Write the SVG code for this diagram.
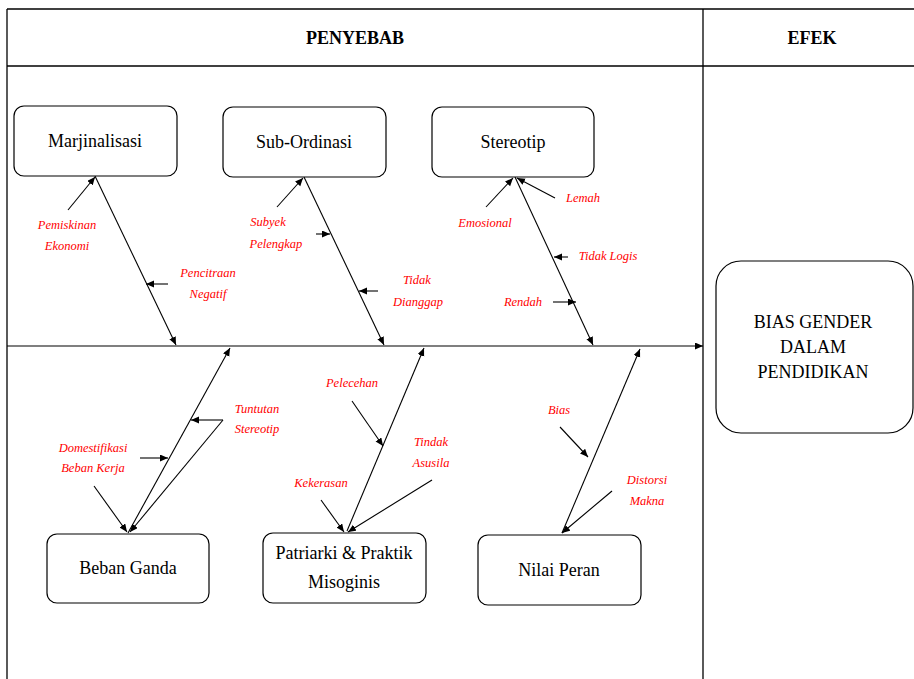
<svg xmlns="http://www.w3.org/2000/svg" width="914" height="679" viewBox="0 0 914 679">
<style>
.frame{stroke:#000;stroke-width:1.3;fill:none}
.box{fill:#fff;stroke:#000;stroke-width:1.2}
.bt{font-family:"Liberation Serif",serif;font-size:18px;fill:#000;text-anchor:middle}
.hd{font-family:"Liberation Serif",serif;font-size:18px;font-weight:bold;fill:#000;text-anchor:middle}
.lb{font-family:"Liberation Serif",serif;font-style:italic;font-size:12.5px;fill:#ff0000;text-anchor:middle}
.ln{stroke:#000;stroke-width:1.1;fill:none}
</style>
<defs>
<marker id="ah" markerUnits="userSpaceOnUse" markerWidth="9" markerHeight="8" refX="8" refY="3.5" orient="auto">
<path d="M0,0 L8,3.5 L0,7 z" fill="#000"/>
</marker>
</defs>
<rect width="914" height="679" fill="#fff"/>
<g id="table">
<line class="frame" x1="7" y1="9" x2="914" y2="9"/>
<line class="frame" x1="7" y1="66" x2="914" y2="66"/>
<line class="frame" x1="7" y1="9" x2="7" y2="679"/>
<line class="frame" x1="703" y1="9" x2="703" y2="679"/>
<text class="hd" x="355" y="44">PENYEBAB</text>
<text class="hd" x="812" y="44">EFEK</text>
</g>
<g id="connectors">
<line class="ln" x1="7" y1="346" x2="703" y2="346" marker-end="url(#ah)"/>
<!-- Marjinalisasi -->
<line class="ln" x1="95" y1="176" x2="176" y2="345" marker-end="url(#ah)"/>
<line class="ln" x1="68" y1="210" x2="95" y2="177" marker-end="url(#ah)"/>
<line class="ln" x1="168" y1="284" x2="146" y2="284" marker-end="url(#ah)"/>
<!-- Sub-Ordinasi -->
<line class="ln" x1="304" y1="177" x2="384" y2="345" marker-end="url(#ah)"/>
<line class="ln" x1="277" y1="207" x2="303" y2="178" marker-end="url(#ah)"/>
<line class="ln" x1="316" y1="234" x2="330" y2="234" marker-end="url(#ah)"/>
<line class="ln" x1="378" y1="291" x2="359" y2="291" marker-end="url(#ah)"/>
<!-- Stereotip -->
<line class="ln" x1="515" y1="177" x2="593" y2="345" marker-end="url(#ah)"/>
<line class="ln" x1="486" y1="207" x2="513" y2="178" marker-end="url(#ah)"/>
<line class="ln" x1="555" y1="198" x2="517" y2="178" marker-end="url(#ah)"/>
<line class="ln" x1="568" y1="257" x2="554" y2="257" marker-end="url(#ah)"/>
<line class="ln" x1="553" y1="302" x2="576" y2="302" marker-end="url(#ah)"/>
<!-- Beban Ganda -->
<line class="ln" x1="128" y1="533" x2="230" y2="348" marker-end="url(#ah)"/>
<line class="ln" x1="94" y1="486" x2="127" y2="532" marker-end="url(#ah)"/>
<line class="ln" x1="140" y1="458" x2="168" y2="458" marker-end="url(#ah)"/>
<line class="ln" x1="223" y1="420" x2="191" y2="420" marker-end="url(#ah)"/>
<line class="ln" x1="223" y1="420" x2="130" y2="532" marker-end="url(#ah)"/>
<!-- Patriarki -->
<line class="ln" x1="347" y1="531" x2="424" y2="348" marker-end="url(#ah)"/>
<line class="ln" x1="352" y1="401" x2="383" y2="446" marker-end="url(#ah)"/>
<line class="ln" x1="321" y1="500" x2="344" y2="532" marker-end="url(#ah)"/>
<line class="ln" x1="432" y1="480" x2="348" y2="532" marker-end="url(#ah)"/>
<!-- Nilai Peran -->
<line class="ln" x1="562" y1="533" x2="640" y2="349" marker-end="url(#ah)"/>
<line class="ln" x1="560" y1="427" x2="588" y2="457" marker-end="url(#ah)"/>
<line class="ln" x1="612" y1="491" x2="562" y2="533" marker-end="url(#ah)"/>
</g>
<g id="labels">
<text class="lb" x="67" y="229">Pemiskinan</text>
<text class="lb" x="67" y="250">Ekonomi</text>
<text class="lb" x="208" y="277">Pencitraan</text>
<text class="lb" x="208" y="298">Negatif</text>
<text class="lb" x="268" y="226">Subyek</text>
<text class="lb" x="276" y="248">Pelengkap</text>
<text class="lb" x="417" y="284">Tidak</text>
<text class="lb" x="418" y="306">Dianggap</text>
<text class="lb" x="583" y="202">Lemah</text>
<text class="lb" x="485" y="227">Emosional</text>
<text class="lb" x="608" y="260">Tidak Logis</text>
<text class="lb" x="523" y="306">Rendah</text>
<text class="lb" x="93" y="452">Domestifikasi</text>
<text class="lb" x="93" y="472">Beban Kerja</text>
<text class="lb" x="257" y="413">Tuntutan</text>
<text class="lb" x="257" y="433">Stereotip</text>
<text class="lb" x="352" y="387">Pelecehan</text>
<text class="lb" x="431" y="446">Tindak</text>
<text class="lb" x="431" y="467">Asusila</text>
<text class="lb" x="321" y="487">Kekerasan</text>
<text class="lb" x="559" y="414">Bias</text>
<text class="lb" x="647" y="484">Distorsi</text>
<text class="lb" x="647" y="505">Makna</text>
</g>
<g id="marjinalisasi">
<rect class="box" x="14" y="106" width="163" height="70" rx="10"/>
<text class="bt" x="95" y="147">Marjinalisasi</text>
</g>
<g id="sub-ordinasi">
<rect class="box" x="223" y="107" width="163" height="70" rx="10"/>
<text class="bt" x="304" y="148">Sub-Ordinasi</text>
</g>
<g id="stereotip">
<rect class="box" x="432" y="107" width="162" height="70" rx="10"/>
<text class="bt" x="513" y="148">Stereotip</text>
</g>
<g id="beban-ganda">
<rect class="box" x="47" y="534" width="162" height="69" rx="10"/>
<text class="bt" x="128" y="574">Beban Ganda</text>
</g>
<g id="patriarki">
<rect class="box" x="263" y="533" width="163" height="70" rx="10"/>
<text class="bt" x="344" y="559">Patriarki &amp; Praktik</text>
<text class="bt" x="344" y="588">Misoginis</text>
</g>
<g id="nilai-peran">
<rect class="box" x="478" y="535" width="163" height="70" rx="10"/>
<text class="bt" x="559" y="576">Nilai Peran</text>
</g>
<g id="efek">
<rect class="box" x="716" y="261" width="197" height="172" rx="25"/>
<text class="bt" x="813" y="328">BIAS GENDER</text>
<text class="bt" x="813" y="353">DALAM</text>
<text class="bt" x="813" y="378">PENDIDIKAN</text>
</g>
</svg>
